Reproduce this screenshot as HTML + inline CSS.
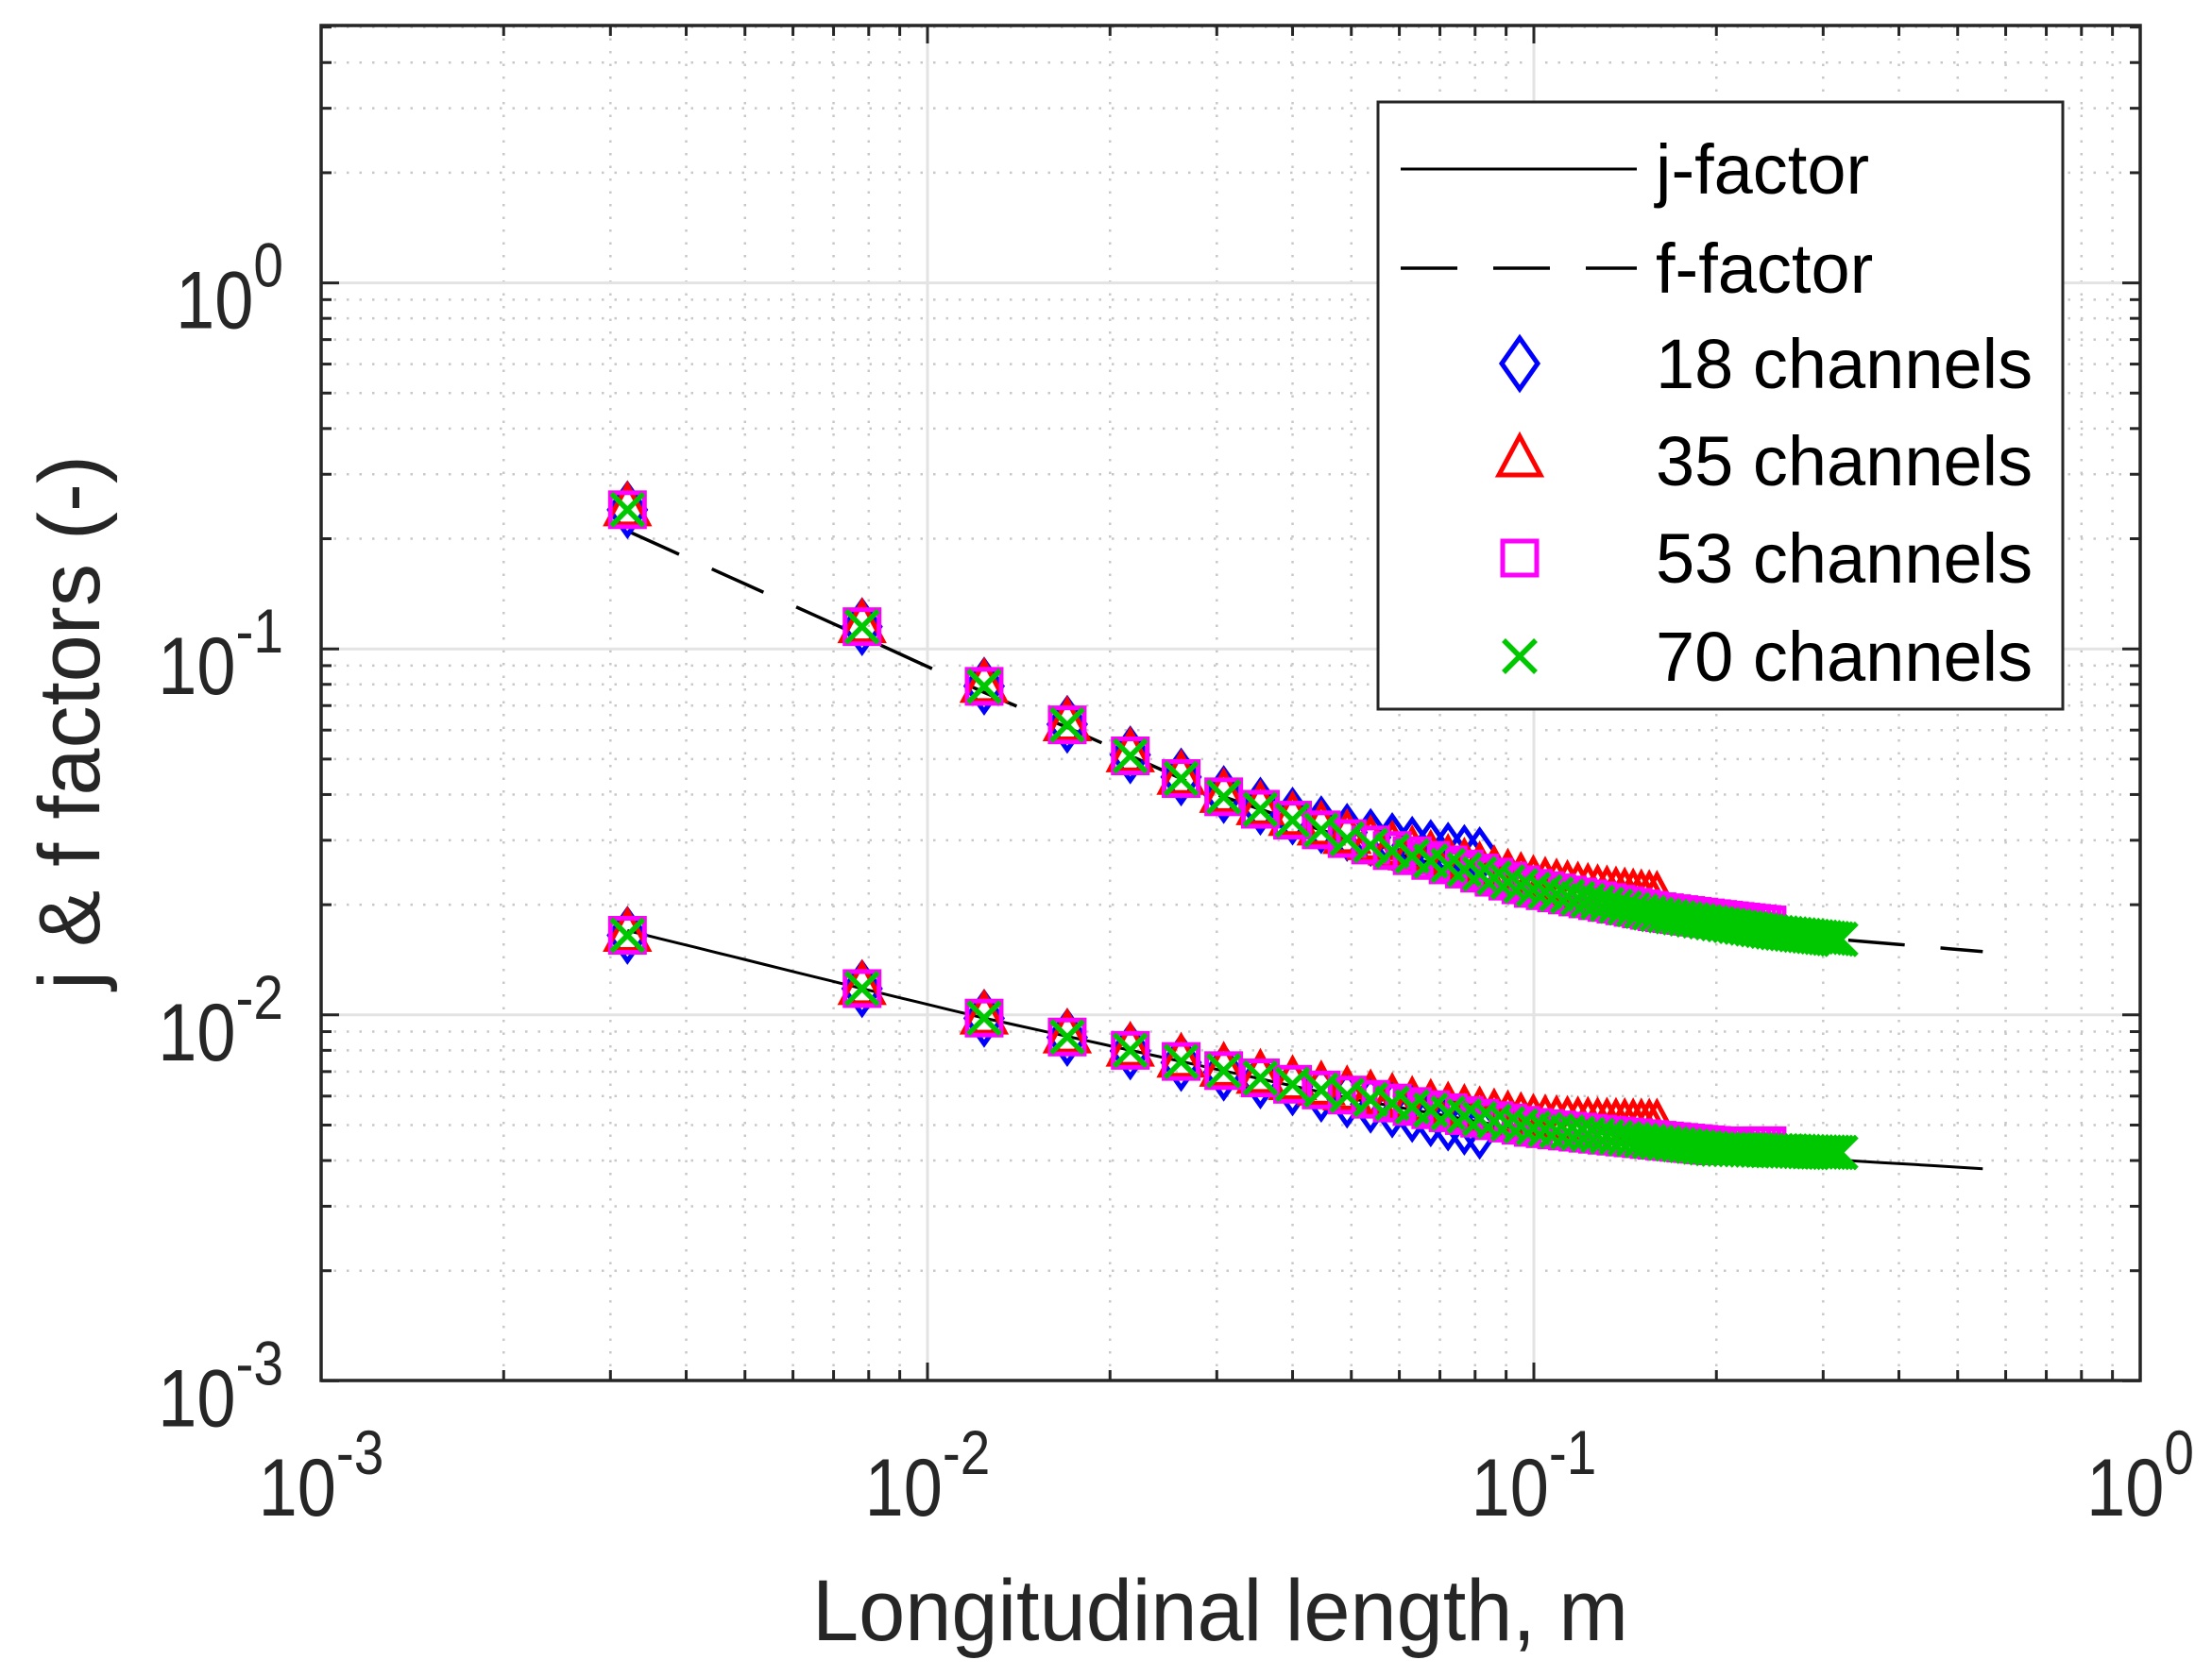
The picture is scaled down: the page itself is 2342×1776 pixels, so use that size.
<!DOCTYPE html>
<html><head><meta charset="utf-8">
<style>html,body{margin:0;padding:0;background:#fff;}svg{display:block;}</style>
</head><body>
<svg id="s" xmlns="http://www.w3.org/2000/svg" width="2342" height="1776" viewBox="0 0 2342 1776" font-family="Liberation Sans, sans-serif"></svg>
<script>
const S=document.getElementById('s');
const L=340,R=2266,T=27,B=1462;
const dx=(R-L)/3, y0=299.6, dy=387.6;
const X=v=>L+(Math.log10(v)+3)*dx;
const Y=v=>y0-Math.log10(v)*dy;
let h='';
for(let d=-3;d<0;d++)for(let m=2;m<=9;m++){const x=X(m*Math.pow(10,d));h+=`<line x1="${x}" y1="${T}" x2="${x}" y2="${B}" stroke="#c8c8c8" stroke-width="2.5" stroke-dasharray="2.5 11"/>`;}
for(let d=-3;d<=0;d++)for(let m=2;m<=9;m++){const v=m*Math.pow(10,d);if(v>5.05)continue;const y=Y(v);h+=`<line x1="${L}" y1="${y}" x2="${R}" y2="${y}" stroke="#c8c8c8" stroke-width="2.5" stroke-dasharray="2.5 11"/>`;}
for(let d=-2;d<0;d++){const x=X(Math.pow(10,d));h+=`<line x1="${x}" y1="${T}" x2="${x}" y2="${B}" stroke="#e3e3e3" stroke-width="3"/>`;}
for(let d=-2;d<=0;d++){const y=Y(Math.pow(10,d));h+=`<line x1="${L}" y1="${y}" x2="${R}" y2="${y}" stroke="#e3e3e3" stroke-width="3"/>`;}
const tk=(x1,y1,x2,y2)=>`<line x1="${x1}" y1="${y1}" x2="${x2}" y2="${y2}" stroke="#262626" stroke-width="3"/>`;
for(let d=-3;d<=0;d++)for(let m=1;m<=9;m++){const v=m*Math.pow(10,d);if(v>1)break;const x=X(v);const l=m==1?19:11;h+=tk(x,B,x,B-l)+tk(x,T,x,T+l);}
for(let d=-3;d<=0;d++)for(let m=1;m<=9;m++){const v=m*Math.pow(10,d);if(v>5.05)break;const y=Y(v);const l=m==1?19:11;h+=tk(L,y,L+l,y)+tk(R,y,R-l,y);}
function interp(kn,x){const lx=Math.log10(x);for(let i=0;i<kn.length-1;i++){const a=Math.log10(kn[i][0]),b=Math.log10(kn[i+1][0]);if(lx<=b||i==kn.length-2){const t=(lx-a)/(b-a);return Math.pow(10,Math.log10(kn[i][1])+t*(Math.log10(kn[i+1][1])-Math.log10(kn[i][1])));}}}
const fk=[[0.0032,0.24],[0.0078,0.115],[0.0124,0.079],[0.017,0.062],[0.0216,0.051],[0.03,0.04],[0.05,0.03],[0.08,0.0245],[0.1,0.022],[0.16,0.0188],[0.25,0.0168],[0.33,0.016]];
const jk=[[0.0032,0.0165],[0.0078,0.0118],[0.0124,0.0098],[0.017,0.0087],[0.0216,0.008],[0.03,0.0071],[0.05,0.006],[0.1,0.0049],[0.2,0.0043],[0.33,0.0042]];
const fl=[[0.0032,0.21],[0.0078,0.108],[0.0124,0.076],[0.017,0.061],[0.03,0.04],[0.05,0.03],[0.1,0.0215],[0.2,0.0175],[0.33,0.016],[0.55,0.0149]];
const jl=[[0.0032,0.017],[0.0078,0.0118],[0.0124,0.0098],[0.03,0.0071],[0.05,0.0059],[0.1,0.0048],[0.2,0.0042],[0.33,0.0040],[0.55,0.0038]];
let pf='',pj='';
for(let i=0;i<=80;i++){const x=0.0032*Math.pow(0.55/0.0032,i/80);pf+=(i?'L':'M')+X(x).toFixed(1)+','+Y(interp(fl,x)).toFixed(1);pj+=(i?'L':'M')+X(x).toFixed(1)+','+Y(interp(jl,x)).toFixed(1);}
h+=`<path d="${pf}" fill="none" stroke="#000" stroke-width="3.5" stroke-dasharray="60 38"/>`;
h+=`<path d="${pj}" fill="none" stroke="#000" stroke-width="3"/>`;
function mk(t,x,y){
 x=+x;y=+y;
 if(t==0)return `<path d="M${x},${y-27}L${x+19},${y}L${x},${y+27}L${x-19},${y}Z" fill="none" stroke="#0000ff" stroke-width="5"/>`;
 if(t==1)return `<path d="M${x},${y-26}L${x+22},${y+15}L${x-22},${y+15}Z" fill="none" stroke="#ff0000" stroke-width="5"/>`;
 if(t==2)return `<rect x="${x-18}" y="${y-18}" width="36" height="36" fill="none" stroke="#ff00ff" stroke-width="5"/>`;
 return `<path d="M${x-17},${y-17}L${x+17},${y+17}M${x-17},${y+17}L${x+17},${y-17}" stroke="#00c800" stroke-width="5.5"/>`;
}
const ns=[18,35,53,70];
ns.forEach((n,t)=>{for(let k=0;k<n;k++){const x=0.0032+0.0046*k;let bump=1;
 if(t==0)bump=1+0.12*Math.pow(k/(n-1),2);if(t==1)bump=1+0.1*Math.pow(k/(n-1),2);if(t==2)bump=1+0.04*Math.pow(k/(n-1),2);
 let bj=1;if(t==0)bj=1-0.07*Math.pow(k/(n-1),2);if(t==1)bj=1+0.1*Math.pow(k/(n-1),2);if(t==2)bj=1+0.03*Math.pow(k/(n-1),2);
 const px=X(x);h+=mk(t,px,Y(interp(fk,x)*bump));h+=mk(t,px,Y(interp(jk,x)*bj));}});
h+=`<rect x="${L}" y="${T}" width="${R-L}" height="${B-T}" fill="none" stroke="#262626" stroke-width="3.5"/>`;
const lab=(x,y,d,anchor)=>`<g transform="translate(${x},${y}) scale(0.86,1)"><text x="0" y="0" font-size="86" fill="#262626" text-anchor="${anchor}">10<tspan font-size="66" dy="-44">${d}</tspan></text></g>`;
[-3,-2,-1,0].forEach(d=>{h+=lab(X(Math.pow(10,d)),1605,d,'middle');});
[0,-1,-2,-3].forEach(d=>{h+=lab(300,Y(Math.pow(10,d))+48,d,'end');});
h+=`<g transform="translate(1292,1737) scale(0.96,1)"><text x="0" y="0" font-size="92" fill="#262626" text-anchor="middle">Longitudinal length, m</text></g>`;
h+=`<g transform="translate(105,765) rotate(-90) scale(0.98,1)"><text x="0" y="0" font-size="92" fill="#262626" text-anchor="middle">j &amp; f factors (-)</text></g>`;
h+=`<rect x="1459" y="108" width="725" height="643" fill="#fff" stroke="#262626" stroke-width="3"/>`;
const ly=[179,284,385,488,591,695],lt=['j-factor','f-factor','18 channels','35 channels','53 channels','70 channels'];
h+=`<line x1="1483" y1="${ly[0]}" x2="1733" y2="${ly[0]}" stroke="#000" stroke-width="3"/>`;
h+=`<line x1="1483" y1="${ly[1]}" x2="1733" y2="${ly[1]}" stroke="#000" stroke-width="3.5" stroke-dasharray="60 38"/>`;
for(let i=0;i<4;i++)h+=mk(i,1609,ly[i+2]);
lt.forEach((s,i)=>{h+=`<g transform="translate(1753,${ly[i]+26}) scale(1,1)"><text x="0" y="0" font-size="74" fill="#000">${s}</text></g>`;});
S.innerHTML=h;
</script>
</body></html>
